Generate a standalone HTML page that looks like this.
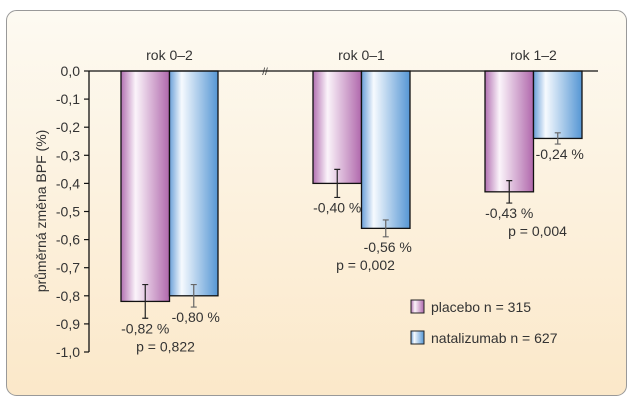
<!DOCTYPE html>
<html><head><meta charset="utf-8"><style>
html,body{margin:0;padding:0;background:#fff;}
svg{display:block;font-family:"Liberation Sans",sans-serif;}
</style></head><body>
<svg id="c" width="634" height="402" viewBox="0 0 634 402">
<defs>
<linearGradient id="bg" x1="0" y1="0" x2="0" y2="1"><stop offset="0" stop-color="#fdfaf2"/><stop offset="1" stop-color="#fbe8c9"/></linearGradient>
<linearGradient id="gp" x1="0" y1="0" x2="1" y2="0"><stop offset="0" stop-color="#b271b2"/><stop offset="0.3" stop-color="#fbf4fa"/><stop offset="1" stop-color="#b068ac"/></linearGradient>
<linearGradient id="gn" x1="0" y1="0" x2="1" y2="0"><stop offset="0" stop-color="#6a9fd8"/><stop offset="0.25" stop-color="#f6fafe"/><stop offset="1" stop-color="#5596d4"/></linearGradient>
</defs>
<rect x="6.5" y="10.5" width="620" height="385" rx="10" fill="url(#bg)" stroke="#999"/>
<g id="plot"></g>
</svg>
<script>
const categories=["rok 0–2","rok 0–1","rok 1–2"];
const placebo=[-0.82,-0.40,-0.43];
const natalizumab=[-0.80,-0.56,-0.24];
const placeboErr=[0.06,0.05,0.04];
const natalizumabErr=[0.04,0.03,0.02];
const pValues=["p = 0,822","p = 0,002","p = 0,004"];
const yTicks=[0,-0.1,-0.2,-0.3,-0.4,-0.5,-0.6,-0.7,-0.8,-0.9,-1.0];
const groupLeft=[121,313,485];
const NS="http://www.w3.org/2000/svg";
const g=document.getElementById('plot');
const y=v=>71-v*281;
const bw=48.5;
const FS=14;
function el(t,a,txt){const e=document.createElementNS(NS,t);for(const k in a)e.setAttribute(k,a[k]);if(txt!==undefined)e.textContent=txt;g.appendChild(e);return e;}
const fmt=v=>v.toFixed(2).replace('.',',')+' %';
categories.forEach((c,i)=>{
  const x0=groupLeft[i];
  const vals=[placebo[i],natalizumab[i]],errs=[placeboErr[i],natalizumabErr[i]];
  vals.forEach((v,j)=>{
    const x=x0+j*bw;
    const r=el('rect',{x:x,y:y(0),width:bw,height:y(v)-y(0),fill:j?'url(#gn)':'url(#gp)',stroke:'#111','stroke-width':1.3});
    
    
    const cx=x+bw/2,e=errs[j];
    const eb=el('path',{d:`M${cx},${y(v+e)}V${y(v-e)}M${cx-3},${y(v+e)}h6M${cx-3},${y(v-e)}h6`,stroke:j?'#666':'#222','stroke-width':1.2,fill:'none'});
    
    
    const lt=el('text',{x:cx+(j?2:0),y:y(v-e)+15,'font-size':FS,fill:'#333','text-anchor':'middle'},fmt(v));
    
    
  });
  const lowest=Math.min(...vals.map((v,j)=>v-errs[j]));
  const pt=el('text',{x:x0+bw+(i==0?-4:4),y:y(lowest)+33,'font-size':FS,fill:'#333','text-anchor':'middle'},pValues[i]);
  
  
  const ct=el('text',{x:x0+bw,y:60,'font-size':FS,fill:'#333','text-anchor':'middle'},c);
  
  
});
const ax=el('path',{d:`M89,${y(0)}H598M89,${y(0)}V${y(-1)}`,stroke:'#111','stroke-width':1.3,fill:'none'});


yTicks.forEach(t=>{
  el('line',{x1:84,x2:89,y1:y(t),y2:y(t),stroke:'#111','stroke-width':1.2});
  const tt=el('text',{x:80,y:y(t)+5,'font-size':FS,fill:'#333','text-anchor':'end'},t.toFixed(1).replace('.',','));
  
  
});
el('text',{x:265,y:75,'font-size':10,fill:'#333','text-anchor':'middle'},'//');
const yt=el('text',{x:46,y:211,'font-size':FS,fill:'#333','text-anchor':'middle',transform:'rotate(-90 46 211)'},'průměrná změna BPF (%)');


[['url(#gp)','placebo n = 315',300],['url(#gn)','natalizumab n = 627',331]].forEach(([f,t,yy])=>{
  const r=el('rect',{x:411,y:yy,width:13,height:13,fill:f,stroke:'#222'});
  
  
  const lt=el('text',{x:431,y:yy+12,'font-size':FS,fill:'#333'},t);
  
  
});
</script>
</body></html>
